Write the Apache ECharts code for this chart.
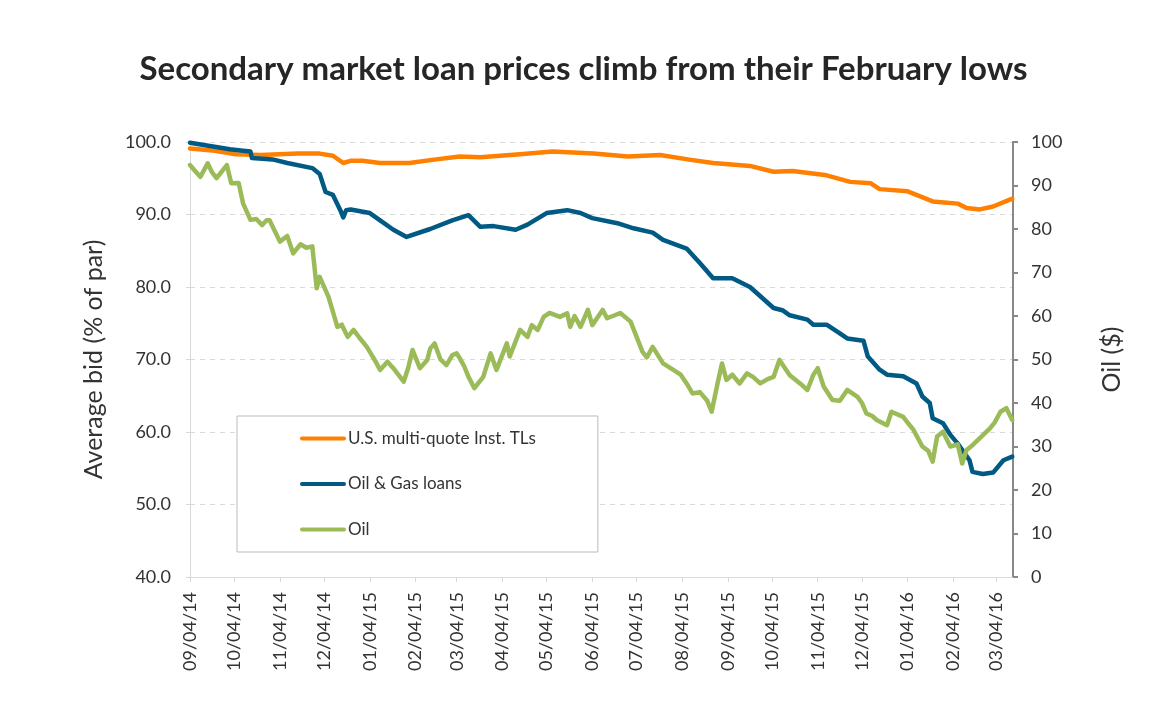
<!DOCTYPE html>
<html>
<head>
<meta charset="utf-8">
<title>Secondary market loan prices</title>
<script src="https://cdn.jsdelivr.net/npm/echarts@6/dist/echarts.min.js"></script>
<style>
html, body { margin: 0; padding: 0; background: #fff; }
#container { width: 1167px; height: 718px; }
</style>
</head>
<body>
<div id="container"></div>
<script>
var DAY = 86400000;
var startDate = Date.UTC(2014, 8, 4);   // 09/04/14, day 0
var endDay = 558.5;

// x axis tick labels (MM/DD/YY)
var tickLabels = ['09/04/14', '10/04/14', '11/04/14', '12/04/14', '01/04/15', '02/04/15',
	'03/04/15', '04/04/15', '05/04/15', '06/04/15', '07/04/15', '08/04/15', '09/04/15',
	'10/04/15', '11/04/15', '12/04/15', '01/04/16', '02/04/16', '03/04/16'];

// U.S. multi-quote Inst. TLs (% of par), days since 09/04/14
var instDays = [0, 17, 31, 48, 73, 88, 97, 104, 109, 117, 129, 149, 163, 183, 197, 224, 246, 274,
	297, 319, 341, 355, 380, 396, 409, 432, 448, 462, 468, 487, 504, 521, 527, 536, 545, 558];
var instValues = [99.1, 98.8, 98.3, 98.2, 98.4, 98.4, 98.1, 97.1, 97.4, 97.4, 97.1, 97.1, 97.5, 98.0,
	97.9, 98.3, 98.7, 98.4, 98.0, 98.2, 97.5, 97.1, 96.7, 95.9, 96.0, 95.4, 94.5, 94.3, 93.5, 93.2,
	91.8, 91.5, 90.9, 90.7, 91.1, 92.2];

// Oil & Gas loans (% of par)
var gasDays = [0, 27, 36, 41, 42, 56, 66, 83, 88, 92, 97, 102, 104, 106, 109, 122, 129, 138, 147,
	163, 178, 189, 191, 197, 206, 221, 229, 242, 256, 265, 273, 290, 301, 314, 321, 337, 346, 355,
	368, 380, 396, 402, 407, 419, 423, 432, 441, 446, 457, 460, 468, 473, 484, 493, 497, 502, 504,
	511, 516, 521, 529, 531, 538, 545, 552, 558];
var gasValues = [99.9, 99.0, 98.8, 98.7, 97.8, 97.6, 97.1, 96.4, 95.6, 93.1, 92.7, 90.6, 89.6, 90.6,
	90.7, 90.2, 89.2, 87.9, 86.9, 88.0, 89.2, 89.9, 89.5, 88.3, 88.4, 87.9, 88.6, 90.2, 90.6, 90.2,
	89.5, 88.8, 88.1, 87.5, 86.5, 85.3, 83.3, 81.2, 81.2, 80.0, 77.1, 76.8, 76.1, 75.5, 74.8, 74.8,
	73.6, 72.9, 72.6, 70.4, 68.6, 67.9, 67.7, 66.7, 64.9, 64.0, 61.9, 61.2, 59.6, 58.4, 56.1, 54.5,
	54.2, 54.4, 56.1, 56.6];

// Oil ($)
var oilDays = [0, 3, 7, 12, 15, 18, 25, 28, 33, 36, 41, 45, 49, 52, 54, 61, 66, 70, 75, 79, 83, 86,
	88, 94, 100, 103, 107, 111, 115, 120, 126, 129, 134, 138, 145, 148, 151, 156, 161, 163, 166,
	170, 174, 178, 181, 183, 186, 189, 193, 199, 204, 208, 215, 217, 224, 229, 232, 236, 240, 244,
	251, 256, 258, 261, 265, 270, 273, 280, 283, 287, 292, 299, 307, 310, 314, 321, 328, 333, 337,
	341, 346, 351, 354, 358, 361, 364, 368, 373, 378, 382, 387, 392, 396, 400, 407, 414, 419, 423,
	426, 430, 436, 441, 446, 453, 456, 459, 463, 466, 473, 476, 484, 487, 491, 497, 501, 504, 507,
	511, 516, 521, 524, 527, 531, 536, 543, 546, 550, 554, 558];
var oilValues = [94.7, 93.5, 92.0, 95.1, 93.0, 91.7, 94.7, 90.5, 90.6, 85.9, 82.1, 82.3, 80.9, 82.0,
	82.0, 77.1, 78.4, 74.4, 76.5, 75.7, 76.0, 66.4, 69.0, 64.4, 57.5, 58.0, 55.2, 56.8, 55.0, 52.9,
	49.5, 47.6, 49.5, 48.0, 44.9, 48.0, 52.2, 48.0, 49.9, 52.5, 53.7, 50.0, 48.7, 51.0, 51.4, 50.3,
	48.5, 46.0, 43.4, 46.0, 51.4, 47.6, 53.7, 50.7, 56.8, 55.2, 57.9, 56.8, 59.8, 60.7, 59.8, 60.6,
	57.5, 60.0, 57.5, 61.4, 57.9, 61.4, 59.5, 60.0, 60.7, 58.7, 51.8, 50.5, 52.9, 49.1, 47.6, 46.5,
	44.5, 42.2, 42.5, 40.5, 38.0, 44.5, 49.1, 45.3, 46.5, 44.5, 46.8, 46.0, 44.5, 45.5, 46.0, 49.9,
	46.4, 44.5, 43.0, 46.5, 48.0, 43.8, 40.7, 40.5, 43.0, 41.4, 40.0, 37.6, 37.0, 36.1, 34.9, 38.0,
	36.8, 35.5, 33.8, 30.0, 29.0, 26.5, 32.3, 33.4, 30.0, 30.5, 26.1, 29.2, 30.3, 31.9, 34.2, 35.5,
	38.0, 38.8, 36.1];

function toPoints(days, values) {
	var pts = [];
	for (var i = 0; i < days.length; i++) {
		pts.push([days[i], values[i]]);
	}
	return pts;
}

// day offset of a MM/DD/YY label
function labelDay(s) {
	var p = s.split('/');
	var t = Date.UTC(2000 + parseInt(p[2], 10), parseInt(p[0], 10) - 1, parseInt(p[1], 10));
	return Math.round((t - startDate) / DAY);
}

var tickDays = tickLabels.map(labelDay);

var fontFamily = 'Lato, "Open Sans", sans-serif';
var textColor = '#333333';

var dom = document.getElementById("container");
var myChart = echarts.init(dom);

var option = {
	animation: false,
	color: ['#FF8000', '#005A84', '#9BBB59'],
	textStyle: { fontFamily: fontFamily },
	title: {
		text: 'Secondary market loan prices climb from their February lows',
		left: 'center',
		top: 48,
		textStyle: {
			fontFamily: fontFamily,
			fontSize: 33,
			fontWeight: 'bold',
			color: '#262626'
		}
	},
	legend: {
		orient: 'vertical',
		left: 237,
		top: 416,
		padding: [14, 62, 14, 63],
		itemGap: 28.5,
		itemWidth: 42,
		itemHeight: 14,
		backgroundColor: '#ffffff',
		borderColor: '#bbbbbb',
		borderWidth: 1,
		itemStyle: { opacity: 0 },
		lineStyle: { width: 4, cap: 'round' },
		textStyle: { fontSize: 17, color: textColor, padding: [0, 0, 0, -1] },
		data: ['U.S. multi-quote Inst. TLs', 'Oil & Gas loans', 'Oil']
	},
	grid: {
		left: 190,
		right: 154,
		top: 142,
		bottom: 141,
		containLabel: false
	},
	xAxis: {
		type: 'value',
		min: 0,
		max: endDay,
		axisLine: { lineStyle: { color: '#d9d9d9', width: 1 } },
		axisTick: {
			show: true,
			length: 5,
			lineStyle: { color: '#d9d9d9' },
			customValues: tickDays
		},
		axisLabel: {
			rotate: 90,
			margin: 15,
			fontSize: 18,
			color: textColor,
			customValues: tickDays,
			formatter: function (value) {
				var i = tickDays.indexOf(value);
				return i >= 0 ? tickLabels[i] : '';
			}
		},
		splitLine: { show: false }
	},
	yAxis: [
		{
			type: 'value',
			name: 'Average bid (% of par)',
			nameLocation: 'middle',
			nameRotate: 90,
			nameGap: 84,
			nameTextStyle: { fontSize: 25, color: textColor },
			min: 40,
			max: 100,
			interval: 10,
			axisLine: { show: true, lineStyle: { color: '#d9d9d9', width: 1 } },
			axisTick: { show: true, length: 4, lineStyle: { color: '#d9d9d9' } },
			axisLabel: {
				margin: 19,
				fontSize: 18,
				color: textColor,
				formatter: function (v) { return v.toFixed(1); }
			},
			splitLine: { lineStyle: { color: '#d9d9d9', type: [5, 5] } }
		},
		{
			type: 'value',
			name: 'Oil ($)',
			nameLocation: 'middle',
			nameRotate: 90,
			nameGap: 86,
			nameTextStyle: { fontSize: 25, color: textColor },
			min: 0,
			max: 100,
			interval: 10,
			position: 'right',
			axisLine: { show: true, lineStyle: { color: '#888888', width: 2 } },
			axisTick: { show: true, length: 5, lineStyle: { color: '#888888', width: 2 } },
			axisLabel: { margin: 18, fontSize: 18, color: textColor },
			splitLine: { show: false }
		}
	],
	series: [
		{
			name: 'U.S. multi-quote Inst. TLs',
			type: 'line',
			yAxisIndex: 0,
			symbol: 'none',
			lineStyle: { width: 4.5, cap: 'round', join: 'round' },
			data: toPoints(instDays, instValues)
		},
		{
			name: 'Oil & Gas loans',
			type: 'line',
			yAxisIndex: 0,
			symbol: 'none',
			lineStyle: { width: 4.5, cap: 'round', join: 'round' },
			data: toPoints(gasDays, gasValues)
		},
		{
			name: 'Oil',
			type: 'line',
			yAxisIndex: 1,
			symbol: 'none',
			lineStyle: { width: 4.5, cap: 'round', join: 'round' },
			data: toPoints(oilDays, oilValues)
		}
	]
};

myChart.setOption(option);
</script>
</body>
</html>
